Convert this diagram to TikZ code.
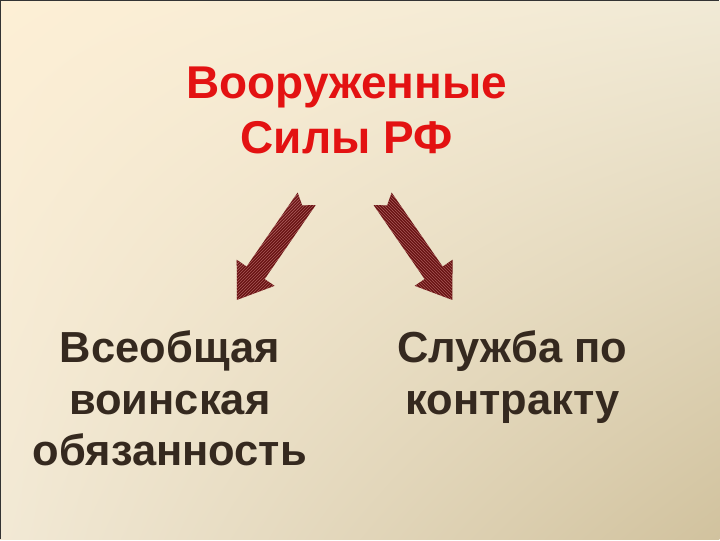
\documentclass[tikz,border=0pt]{standalone}
\usepackage{fontspec}
\setmainfont{Liberation Sans}
\usetikzlibrary{shapes,patterns,shadings}
\definecolor{titlered}{HTML}{E31212}
\definecolor{textdark}{HTML}{35291F}
\definecolor{arrowred}{HTML}{6A1414}
\definecolor{hatchred}{HTML}{B86A6A}
\definecolor{bgul}{HTML}{FDEFD5}
\definecolor{bgur}{HTML}{F1EAD6}
\definecolor{bgll}{HTML}{F2E9D5}
\definecolor{bglr}{HTML}{D1C29E}

\begin{document}
\begin{tikzpicture}[x=1pt,y=1pt]
    \tikzstyle{every node}=[inner sep=0pt,align=center,font=\bfseries]
    \tikzstyle{head}=[text=titlered,font=\bfseries\fontsize{46}{55}\selectfont]
    \tikzstyle{branch}=[text=textdark,font=\bfseries\fontsize{43.5}{51.5}\selectfont]
    \tikzstyle{blockarrow}=[preaction={fill=arrowred},pattern color=hatchred]
    % background
    \shade[upper left=bgul,upper right=bgur,lower left=bgll,lower right=bglr]
      (0,0) rectangle (720,540);
    \draw[black!80,line width=1.5pt] (0.75,0) -- (0.75,539.25) -- (720,539.25);
    \node[head,anchor=north] (forces) at (347,473) {Вооруженные\\Силы РФ};
    \node[branch,anchor=north] (duty) at (170,209) {Всеобщая\\воинская\\обязанность};
    \node[branch,anchor=north] (contract) at (513,209) {Служба по\\контракту};
    % arrows
    \coordinate (tl) at (307,341);
    \coordinate (tr) at (383,341);
    \foreach \t/\ang/\hatch in {tl/235.4/north east lines, tr/-55.4/north west lines}
      \fill[blockarrow,pattern=\hatch,shift={(\t)},rotate=\ang]
        (0,11) -- (90,11) -- (90,23) -- (123,0) -- (90,-23) -- (90,-11)
        -- (0,-11) -- (8,0) -- cycle;
\end{tikzpicture}
\end{document}
